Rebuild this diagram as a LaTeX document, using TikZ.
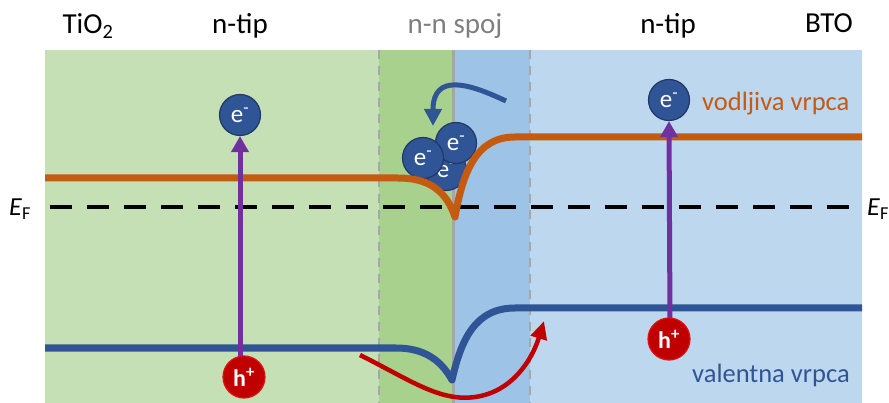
\documentclass[tikz,border=0pt]{standalone}
\usepackage{fontspec}
\setmainfont{Carlito}
\usetikzlibrary{arrows.meta}
\definecolor{lgreen}{HTML}{C5E0B4}
\definecolor{dgreen}{HTML}{A9D18E}
\definecolor{mblue}{HTML}{9DC3E6}
\definecolor{lblue}{HTML}{BDD7EE}
\definecolor{borange}{HTML}{C55A11}
\definecolor{bblue}{HTML}{2F5597}
\definecolor{eborder}{HTML}{203864}
\definecolor{hred}{HTML}{C00000}
\definecolor{hborder}{HTML}{E01010}
\definecolor{ppurple}{HTML}{7030A0}
\definecolor{sepgray}{HTML}{A6A6A6}
\definecolor{spojgray}{HTML}{7F7F7F}
\begin{document}
\begin{tikzpicture}[x=1pt,y=-1pt,
  title/.style={font=\fontsize{29}{32}\selectfont, anchor=base, inner sep=0pt},
  bandlabel/.style={font=\fontsize{26.5}{30}\selectfont, anchor=base west, inner sep=0pt},
  eflabel/.style={font=\fontsize{26}{30}\selectfont, anchor=base west, inner sep=0pt},
  sepdash/.style={draw=sepgray, line width=2pt, dash pattern=on 9pt off 7pt},
  sepsolid/.style={draw=sepgray, line width=3pt},
  fermi/.style={draw=black, line width=4pt, dash pattern=on 22pt off 15pt},
  cband/.style={draw=borange, line width=7pt, line join=round},
  vband/.style={draw=bblue, line width=7pt, line join=round},
  elec/.style={circle, fill=bblue, draw=eborder, line width=1.2pt, minimum size=41pt, inner sep=0pt, text=white, font=\fontsize{25}{25}\selectfont},
  hole/.style={circle, fill=hred, draw=hborder, line width=1.2pt, minimum size=42pt, inner sep=0pt, text=white, font=\bfseries\fontsize{24}{24}\selectfont},
  excite/.style={draw=ppurple, line width=5pt, -{Triangle[width=17pt,length=16pt]}},
  holepath/.style={draw=hred, line width=4.5pt, -{Triangle[width=16pt,length=18pt]}},
  elecpath/.style={draw=bblue, line width=5pt, -{Triangle[width=17pt,length=17pt]}}
]
\useasboundingbox (0,0) rectangle (889,403);
% backgrounds
\fill[lgreen] (45,50) rectangle (379,403);
\fill[dgreen] (379,50) rectangle (453,403);
\fill[mblue] (453,50) rectangle (530,403);
\fill[lblue] (530,50) rectangle (862,403);
\draw[sepdash] (379,50) -- (379,403);
\draw[sepdash] (530,50) -- (530,403);
\draw[sepsolid] (453,50) -- (453,403);
% Fermi level
\draw[fermi] (50,207) -- (850,207);
% titles
\node[title] (tio) at (88,34) {TiO\textsubscript{2}};
\node[title] (nl) at (240,34) {n-tip};
\node[title, text=spojgray] (nn) at (455,34) {n-n spoj};
\node[title] (nr) at (668,34) {n-tip};
\node[title, anchor=base east] (bto) at (853,33) {BTO};
\node[eflabel] (efl) at (9,216) {\textit{E}\textsubscript{F}};
\node[eflabel] (efr) at (867,216) {\textit{E}\textsubscript{F}};
% electrons cluster (behind the conduction band)
\node[elec] (ec3) at (446,170) {e\textsuperscript{-}};
\node[elec] (ec2) at (456,143) {e\textsuperscript{-}};
\node[elec] (ec1) at (423,158) {e\textsuperscript{-}};
% bands
\draw[cband] (45,178) -- (398,178) .. controls (428,178) and (446,190) .. (455,217)
  .. controls (463,172) and (476,137) .. (515,137) -- (862,137);
\draw[vband] (45,348) -- (396,348) .. controls (424,348) and (441,360) .. (452,380)
  .. controls (461,340) and (475,308) .. (515,308) -- (862,308);
% band labels
\node[bandlabel, text=borange] (cbl) at (702,111) {vodljiva vrpca};
\node[bandlabel, text=bblue] (vbl) at (692,382) {valentna vrpca};
% charges
\node[elec] (e1) at (240,115) {e\textsuperscript{-}};
\node[elec] (e2) at (669,100) {e\textsuperscript{-}};
\coordinate (h1c) at (240,360);
\coordinate (h2c) at (670,325);
\draw[excite] (h1c) -- (e1.south);
\draw[excite] (h2c) -- (e2.south);
\node[hole] (h1) at (244,377) {h\textsuperscript{+}};
\node[hole] (h2) at (669,339) {h\textsuperscript{+}};
% carrier transfer arrows
\coordinate (hs) at (360,355);
\coordinate (ht) at (544,321);
\draw[holepath] (hs) .. controls (410,380) and (440,402) .. (475,397)
  .. controls (512,392) and (532,360) .. (ht);
\coordinate (es) at (506,101);
\coordinate (et) at (433,126);
\draw[elecpath] (es) .. controls (470,84) and (433,72) .. (et);
\end{tikzpicture}
\end{document}
